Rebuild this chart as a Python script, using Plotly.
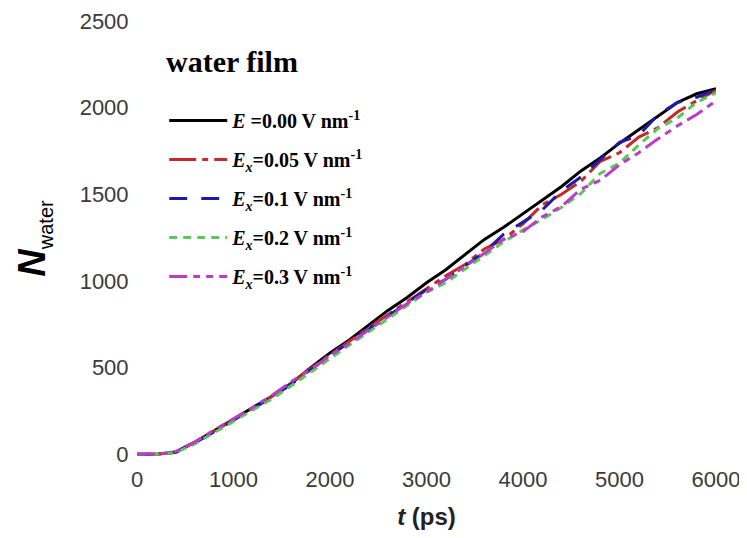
import plotly.graph_objects as go

# ---- data ----
t_ps = [0, 200, 400, 600, 800, 1000, 1200, 1400, 1600, 1800, 2000, 2200, 2400, 2600, 2800,
        3000, 3200, 3400, 3600, 3800, 4000, 4200, 4400, 4600, 4800, 5000, 5200, 5400, 5600,
        5800, 6000]

n_e000 = [0, 0, 12, 70, 135, 205, 270, 335, 410, 500, 585, 660, 745, 830, 905,
          990, 1065, 1150, 1240, 1310, 1390, 1465, 1545, 1635, 1710, 1795, 1875, 1955, 2030,
          2080, 2110]
n_e005 = [0, 0, 15, 70, 135, 200, 265, 335, 410, 495, 575, 650, 730, 805, 880,
          955, 1030, 1095, 1185, 1240, 1330, 1440, 1500, 1575, 1690, 1740, 1830, 1885, 1975,
          2040, 2100]
n_e010 = [0, 0, 12, 65, 130, 195, 260, 330, 405, 490, 570, 645, 720, 800, 875,
          950, 1010, 1085, 1165, 1270, 1340, 1410, 1520, 1600, 1700, 1800, 1840, 1960, 2030,
          2060, 2105]
n_e020 = [0, 0, 10, 60, 125, 190, 255, 320, 395, 475, 555, 630, 705, 780, 860,
          935, 990, 1070, 1150, 1225, 1295, 1355, 1425, 1505, 1620, 1680, 1785, 1880, 1940,
          2030, 2085]
n_e030 = [0, 0, 15, 70, 140, 205, 270, 340, 420, 490, 570, 640, 715, 790, 870,
          935, 1010, 1080, 1160, 1240, 1285, 1370, 1430, 1530, 1580, 1670, 1740, 1820, 1895,
          1960, 2040]

series_names = [
    "<b><i>E</i> =0.00 V nm<sup>-1</sup></b>",
    "<b><i>E<sub>x</sub></i>=0.05 V nm<sup>-1</sup></b>",
    "<b><i>E<sub>x</sub></i>=0.1 V nm<sup>-1</sup></b>",
    "<b><i>E<sub>x</sub></i>=0.2 V nm<sup>-1</sup></b>",
    "<b><i>E<sub>x</sub></i>=0.3 V nm<sup>-1</sup></b>",
]
series_values = [n_e000, n_e005, n_e010, n_e020, n_e030]
x_ticks = [0, 1000, 2000, 3000, 4000, 5000, 6000]
y_ticks = [0, 500, 1000, 1500, 2000, 2500]

# ---- styles ----
colors = ["#000000", "#c42a2a", "#1c1ca8", "#5cc65c", "#b83ec6"]
dashes = ["solid", "27px,6px,6px,6px", "18px,14px", "8px,6px", "18px,6px,7px,6px,7px,6px"]

fig = go.Figure()
for i, (name, vals) in enumerate(zip(series_names, series_values)):
    fig.add_trace(go.Scatter(
        x=t_ps, y=vals, mode="lines", name=name, legendgroup=f"g{i}",
        line=dict(color=colors[i], width=3, dash=dashes[i]),
    ))

tick_font = dict(family="Liberation Sans, Arial, sans-serif", size=22, color="#3a3a3a")
serif = "Liberation Serif, Times New Roman, serif"

# page body has an 8px default margin: size the figure to fit the 747x538 window
fig.update_layout(
    width=739, height=530,
    margin=dict(l=129, r=31, t=13, b=82, autoexpand=False),
    paper_bgcolor="white", plot_bgcolor="white",
    showlegend=True,
    legend=dict(
        x=0.047, y=0.816, xanchor="left", yanchor="top",
        bgcolor="rgba(0,0,0,0)",
        font=dict(family=serif, size=20, color="#000"),
        tracegroupgap=10,
        itemwidth=58,
    ),
    annotations=[dict(
        text="<b>water film</b>", xref="paper", yref="paper", x=0.047, y=0.906,
        xanchor="left", yanchor="middle", showarrow=False,
        font=dict(family=serif, size=30, color="#000"),
    )],
    xaxis=dict(
        range=[0, 6000], tickvals=x_ticks, showgrid=False, zeroline=False, showline=False,
        ticks="outside", ticklen=4, tickcolor="rgba(0,0,0,0)", tickfont=tick_font,
        automargin=False,
        title=dict(text="<b><i>t</i> (ps)</b>",
                   font=dict(family="Liberation Sans, Arial, sans-serif", size=24, color="#222"),
                   standoff=16),
    ),
    yaxis=dict(
        range=[-10, 2500], tickvals=y_ticks, showgrid=False, zeroline=False, showline=False,
        ticks="outside", ticklen=3, tickcolor="rgba(0,0,0,0)", tickfont=tick_font,
        automargin=False,
        title=dict(text="<b><i>N</i></b><sub><span style='font-size:20px'>water</span></sub>",
                   font=dict(family="Liberation Sans, Arial, sans-serif", size=38, color="#000"),
                   standoff=22),
    ),
)

fig.write_html("out.html")
